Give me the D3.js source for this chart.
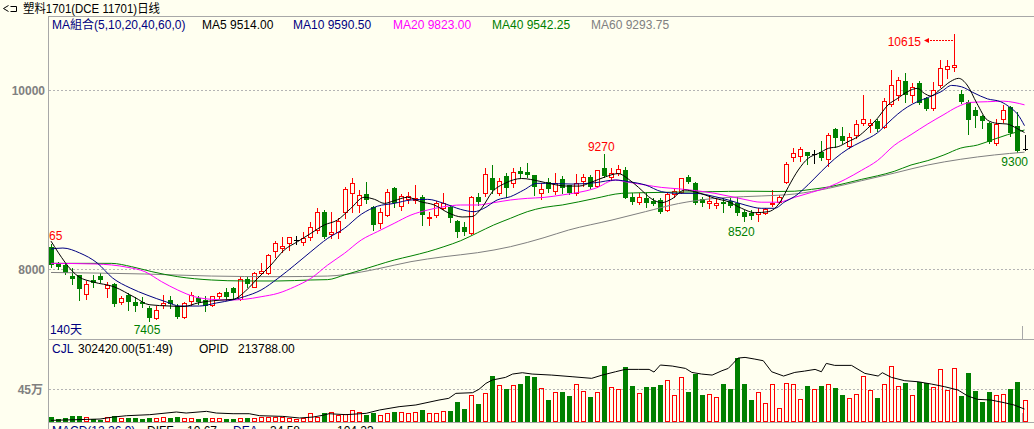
<!DOCTYPE html>
<html><head><meta charset="utf-8">
<script src="https://cdn.jsdelivr.net/npm/d3@7"></script>
<style>
html,body{margin:0;padding:0;background:#fffff0;overflow:hidden}
svg{display:block}
text{font-family:"Liberation Sans","Noto Sans CJK SC",sans-serif;font-size:12px}
</style></head><body>
<svg id="c" width="1034" height="429"></svg>
<script>
// ---------- data ----------
const title = "塑料1701(DCE 11701)日线";
const open = [8238,8052,8033,7910,7922,7706,7866,7910,7776,7821,
7624,7698,7624,7620,7557,7437,7590,7642,7575,7456,
7635,7668,7642,7586,7687,7728,7772,7650,7877,7791,
7940,7940,8190,8220,8275,8313,8294,8350,8424,8629,
8380,8406,8630,8834,8704,8826,8685,8499,8592,8890,
8692,8767,8760,8789,8555,8592,8674,8677,8525,8454,
8394,8797,8841,9001,8834,9031,8946,9087,9076,9039,
8841,8965,8864,8991,8927,8842,8972,9020,8916,9121,
9013,9065,9095,8790,8741,8786,8752,8760,8648,8827,
8853,9020,8946,8771,8722,8704,8741,8749,8722,8630,
8611,8603,8611,8715,8741,8965,9244,9251,9292,9274,
9292,9214,9549,9475,9367,9486,9616,9598,9642,9579,
9832,9933,10089,9933,10063,9896,9784,10045,10220,10250,
9940,9858,9765,9698,9624,9393,9661,9795,9586,9326];
const high = [8265,8070,8060,7996,7925,7854,7922,7940,7847,7836,
7687,7717,7679,7679,7575,7575,7698,7690,7598,7624,
7735,7690,7687,7690,7735,7772,7791,7896,7903,7959,
8052,8156,8305,8342,8342,8357,8406,8517,8666,8648,
8629,8555,8901,9001,8871,8964,8692,8666,8879,8901,
8826,8853,8927,8815,8629,8752,8834,8692,8536,8517,
8804,8834,9113,9150,9001,9057,9113,9132,9169,9039,
8946,9002,9065,9032,8927,9050,9050,9039,9095,9270,
9114,9151,9125,8834,8834,8834,8778,8778,8842,8879,
9002,9039,8965,8797,8816,8778,8778,8778,8789,8648,
8648,8667,8667,8871,8816,9188,9337,9348,9300,9319,
9423,9505,9560,9572,9505,9654,9933,9661,9661,9896,
10212,10138,10175,10063,10093,9914,10082,10324,10324,10615,
9989,9877,9802,9709,9635,9661,9821,9810,9747,9486];
const low = [8015,7985,7933,7821,7642,7653,7791,7847,7679,7575,
7598,7530,7523,7568,7405,7426,7549,7549,7437,7437,
7586,7598,7523,7575,7661,7642,7650,7642,7791,7784,
7933,7933,8119,8182,8201,8268,8257,8313,8387,8331,
8331,8331,8555,8629,8629,8722,8424,8443,8581,8685,
8648,8722,8722,8480,8480,8573,8655,8517,8342,8368,
8380,8704,8804,8834,8815,8789,8908,9020,9020,8815,
8767,8853,8827,8834,8827,8816,8916,8890,8901,9020,
8983,9039,8778,8715,8715,8678,8704,8618,8641,8797,
8834,8946,8715,8696,8667,8667,8630,8685,8592,8520,
8544,8529,8603,8693,8730,8953,9199,9199,9162,9169,
9207,9140,9356,9400,9337,9449,9598,9523,9535,9560,
9810,9877,9858,9858,9832,9765,9765,10018,10119,10205,
9840,9497,9579,9560,9393,9374,9635,9475,9300,9320];
const close = [8033,8007,7948,7881,7761,7817,7836,7866,7810,7598,
7668,7624,7575,7598,7437,7530,7605,7598,7448,7612,
7698,7616,7575,7690,7717,7679,7717,7873,7817,7948,
7970,8141,8275,8246,8342,8313,8331,8454,8622,8342,
8406,8529,8879,8946,8815,8760,8480,8629,8845,8730,
8808,8808,8778,8592,8573,8730,8722,8555,8406,8406,
8797,8741,9050,8871,8972,8890,9076,9050,9039,8901,
8879,8879,8953,8898,8834,8946,9013,8909,9095,9032,
9065,9102,8778,8741,8790,8722,8715,8630,8823,8860,
9002,8965,8722,8722,8749,8730,8715,8696,8611,8574,
8581,8630,8655,8730,8797,9162,9281,9326,9255,9274,
9225,9486,9449,9423,9467,9605,9661,9616,9549,9870,
10045,10100,9933,10026,9847,9773,9989,10231,10257,10268,
9858,9653,9698,9646,9411,9609,9765,9512,9311,9326];
const volume = [67000,40000,54000,81000,81000,67000,40000,31000,67000,81000,
54000,54000,54000,45000,54000,54000,67000,54000,67000,54000,
54000,40000,54000,54000,54000,40000,45000,54000,54000,54000,
67000,67000,67000,67000,54000,40000,54000,121000,67000,121000,
135000,90000,103000,157000,130000,94000,126000,90000,117000,135000,
130000,117000,130000,162000,117000,117000,148000,148000,270000,175000,
360000,243000,387000,621000,495000,445000,495000,513000,621000,603000,
454000,297000,400000,405000,351000,513000,414000,337000,400000,756000,
468000,441000,742000,486000,387000,472000,472000,499000,562000,360000,
603000,405000,652000,364000,378000,333000,513000,445000,860000,513000,
297000,405000,256000,513000,189000,522000,513000,310000,486000,445000,
486000,513000,459000,364000,319000,378000,621000,432000,324000,513000,
756000,481000,526000,364000,535000,522000,468000,711000,432000,724000,
351000,661000,418000,274000,405000,360000,378000,445000,540000,302420];
// moving averages: [day index, value]
const ma5 = [[0,8300],[4,7900],[6,7844],[9,7790],[12,7670],[14,7590],[17,7575],[19,7570],[21,7610],[24,7640],[26,7650],[28,7760],[29.5,7884],[31.4,8033],[33.3,8201],[35.2,8294],[37.1,8387],[39,8480],[40.9,8536],[42.8,8666],[44.7,8790],[46.2,8767],[47.6,8722],[49,8752],[50.9,8790],[52.8,8740],[54.7,8705],[56.8,8614],[58.7,8570],[60.1,8575],[61.5,8670],[63,8849],[64.9,8949],[67.2,9000],[69.7,8970],[71.5,8938],[73.5,8916],[75.4,8915],[77.2,8960],[79.2,9020],[81,9055],[82.5,8990],[83.9,8900],[85.8,8770],[87.2,8730],[88.6,8770],[90.5,8871],[91.9,8853],[93.4,8816],[94.8,8778],[96.7,8741],[98.6,8667],[100.5,8618],[102.4,8629],[103.6,8685],[104.3,8760],[105.3,8909],[106.7,9095],[108.1,9225],[109.6,9281],[111,9337],[112.4,9356],[113.8,9411],[115.2,9467],[116.6,9560],[118,9672],[119.5,9821],[120.9,9896],[122.3,9970],[123.7,10007],[124.7,9951],[125.6,9922],[127,9996],[128.4,10082],[129.6,10119],[130.8,10045],[132.2,9840],[133.7,9653],[135.1,9616],[136.5,9609],[137.9,9560],[139,9514]];
const ma10 = [[0,8212],[1.7,8223],[4.1,8168],[6.6,8056],[8.8,7888],[11.3,7777],[13.7,7698],[16.5,7620],[18.4,7575],[21.2,7575],[23.6,7609],[25.9,7643],[27.6,7680],[30,7754],[32.4,7884],[34.8,8033],[37.1,8182],[39.5,8331],[41.9,8443],[44.3,8600],[46.6,8690],[49,8722],[51.4,8760],[53.8,8767],[56.1,8722],[58.5,8655],[60.4,8629],[61.8,8666],[63.7,8760],[65.6,8797],[67.5,8871],[69.4,8946],[70.6,8946],[74.4,8938],[77.7,8953],[80.6,8983],[82.5,8964],[84.9,8927],[87.2,8853],[89.6,8834],[92,8834],[94.8,8797],[96.7,8760],[99.1,8704],[101.4,8667],[103.3,8667],[104.8,8741],[106.2,8800],[108.1,8930],[110,9080],[111.9,9220],[113.8,9330],[115.7,9410],[118,9510],[119.5,9620],[120.9,9720],[122.3,9800],[123.7,9858],[125.2,9905],[127.1,9970],[128.6,10040],[130,10025],[131.8,9955],[133.7,9890],[135.6,9858],[137,9790],[138,9720],[139,9590]];
const ma20 = [[0,8052],[6.3,8045],[11,8007],[13.4,7959],[15.8,7847],[18.1,7754],[20.5,7679],[22.9,7650],[25.3,7642],[27.6,7650],[30,7679],[32.4,7717],[34.8,7791],[37.1,7884],[39.5,8033],[41.9,8164],[44.3,8313],[46.6,8406],[49,8499],[51.4,8592],[53.8,8648],[56.1,8685],[58.5,8704],[60.9,8704],[63.2,8730],[65.6,8760],[68,8778],[70.4,8789],[73,8816],[77.7,8890],[80.6,8983],[82,8964],[84.9,8927],[87.2,8900],[89.6,8885],[92,8865],[94.8,8834],[96.7,8804],[99.1,8765],[101.4,8735],[103.8,8735],[106.2,8790],[108.6,8845],[111,8905],[113.4,8990],[115.7,9090],[118,9200],[120.4,9370],[122.8,9490],[125.2,9610],[127.5,9715],[129.4,9800],[131.3,9850],[133.7,9858],[136,9864],[137.5,9850],[139,9823]];
const ma40 = [[0,8052],[8.6,8052],[11.5,8015],[14.4,7959],[18.1,7903],[22.9,7866],[27.6,7855],[32.4,7855],[37.1,7866],[39.5,7870],[41.9,7922],[44.3,7977],[46.6,8033],[49,8089],[51.4,8134],[53.8,8182],[56.1,8238],[58.5,8305],[60.9,8394],[63.2,8480],[65.6,8555],[68,8629],[70.4,8677],[73,8704],[77.7,8778],[81.5,8834],[84.9,8842],[89.6,8848],[94.4,8853],[99.1,8858],[103.8,8855],[106.2,8858],[108.6,8879],[111,8905],[113.4,8946],[115.7,8990],[118,9030],[120.4,9080],[122.8,9151],[125.2,9200],[127.5,9263],[129.9,9340],[132.3,9374],[134.7,9440],[136.6,9490],[139,9542]];
const ma60 = [[0,7950],[13.4,7933],[22.9,7910],[32.4,7903],[39.5,7910],[44.3,7955],[46.6,7990],[51.4,8071],[56.1,8126],[60.9,8171],[65.6,8238],[70.4,8339],[73.9,8424],[80.1,8536],[84.9,8630],[89.6,8720],[94.4,8775],[98.9,8797],[101.5,8805],[106.2,8827],[111,8890],[115.7,8975],[120.4,9060],[125.2,9151],[129.9,9215],[134.7,9263],[139,9294]];
const opid = [[0,22000],[7,40000],[8.9,67000],[10.8,85000],[14.1,99000],[17.9,135000],[19.3,121000],[22.2,144000],[23.6,121000],[26,112000],[28.3,112000],[29.8,85000],[33.1,76000],[35.5,54000],[37.4,67000],[38.8,90000],[39.7,112000],[42.1,99000],[45,117000],[46.9,162000],[49.7,207000],[52.1,230000],[55.4,297000],[56.8,320000],[57.8,387000],[60.2,396000],[61.1,441000],[62.1,522000],[63,567000],[64.9,603000],[65.9,648000],[67.3,666000],[68.7,648000],[71.5,634000],[74.4,612000],[77.2,590000],[78.7,634000],[80.6,679000],[82,711000],[83.9,711000],[85.4,711000],[86.1,675000],[87,770000],[88.7,756000],[90.6,724000],[91.5,670000],[92.9,648000],[94.4,634000],[95.8,693000],[96.7,724000],[97.4,792000],[98.1,864000],[99.1,873000],[100.5,850000],[101.7,828000],[102.9,679000],[104.6,621000],[106.2,670000],[107.6,688000],[109.1,711000],[110,679000],[110.7,792000],[111.9,765000],[114.3,765000],[116.2,657000],[118.1,621000],[118.7,666000],[120,603000],[121.9,558000],[123.8,544000],[125.7,513000],[127.6,477000],[129.5,432000],[130.9,351000],[132.3,306000],[134.2,297000],[136.1,261000],[137.5,230000],[139,175000]];
const priceTicks = [8000, 10000];
const volTicks = [450000];
const volTickLabels = ["45万"];
const legendItems = [
  {t:"MA組合(5,10,20,40,60,0)", c:"#000080"},
  {t:"MA5 9514.00", c:"#000000"},
  {t:"MA10 9590.50", c:"#000080"},
  {t:"MA20 9823.00", c:"#ff00ff"},
  {t:"MA40 9542.25", c:"#008000"},
  {t:"MA60 9293.75", c:"#808080"}];
const volLegend = [{t:"CJL",c:"#000080"},{t:"302420.00(51:49)",c:"#000"},{t:"OPID",c:"#000"},{t:"213788.00",c:"#000"}];
const macdLegend = [{t:"MACD(12,26,9)",c:"#000080"},{t:"DIFF",c:"#000"},{t:"10.67",c:"#000"},{t:"DEA",c:"#000080"},{t:"34.58",c:"#000"},{t:"104.23",c:"#000"}];

// ---------- drawing ----------
const BG="#fffff0", RED="#ff0000", GREEN="#008000", GRID="#b4b4b4";
const svg = d3.select("#c");
svg.append("rect").attr("width",1034).attr("height",429).attr("fill",BG);

const x = d3.scaleLinear().domain([0,139]).range([51,1024.5]);
const y = d3.scaleLinear().domain([8000,10000]).range([268,89]);
const yv = d3.scaleLinear().domain([0,450000]).range([422,388.7]);

const defs = svg.append("defs");
defs.append("clipPath").attr("id","cp").append("rect").attr("x",49).attr("y",17).attr("width",985).attr("height",321);
defs.append("clipPath").attr("id","cv").append("rect").attr("x",49).attr("y",340).attr("width",985).attr("height",82);

// frame lines
const fr = svg.append("g").attr("shape-rendering","crispEdges").attr("stroke","#a8a8a8");
fr.append("line").attr("x1",48.5).attr("x2",48.5).attr("y1",16).attr("y2",429);
fr.append("line").attr("x1",48).attr("x2",1034).attr("y1",16.5).attr("y2",16.5);
fr.append("line").attr("x1",48).attr("x2",1034).attr("y1",339.5).attr("y2",339.5);
fr.append("line").attr("x1",48).attr("x2",1034).attr("y1",422.5).attr("y2",422.5);
fr.append("line").attr("x1",1022.5).attr("x2",1022.5).attr("y1",326).attr("y2",339);
fr.append("line").attr("x1",1022.5).attr("x2",1022.5).attr("y1",413).attr("y2",422);

// title + icon
svg.append("path").attr("d","M8.5,5.5 L3.5,8.5 L8.5,11.5 M10.5,6.5 H16.5 V11.5 H10.5").attr("fill","none").attr("stroke","#000").attr("stroke-width",1);
svg.append("text").attr("x",23).attr("y",12.5).attr("textLength",137).attr("lengthAdjust","spacingAndGlyphs").attr("fill","#000").text(title);

// legend
const lx=[52,202,293,393,492,591];
svg.append("g").selectAll("text").data(legendItems).join("text")
  .attr("x",(d,i)=>lx[i]).attr("y",28.5).attr("fill",d=>d.c).text(d=>d.t);

// price grid + axis
const gridP = svg.append("g").attr("transform","translate(49,0)")
  .call(d3.axisRight(y).tickValues(priceTicks).tickSize(985).tickFormat(""));
gridP.select(".domain").remove();
gridP.selectAll("line").attr("stroke",GRID).attr("stroke-dasharray","2,2").attr("shape-rendering","crispEdges").attr("transform","translate(0,0.5)");
const axP = svg.append("g").attr("transform","translate(46,0)")
  .call(d3.axisLeft(y).tickValues(priceTicks).tickSize(0).tickPadding(1).tickFormat(d3.format("d")));
axP.select(".domain").remove();
axP.selectAll("text").attr("fill","#808080").attr("font-weight","bold").attr("dy","0.42em");

// candles
const data = d3.range(open.length).map(i=>({i,o:open[i],h:high[i],l:low[i],c:close[i],v:volume[i]}));
const colr = d => d.c>d.o?RED:(d.c<d.o?GREEN:"#000000");
const pg = svg.append("g").attr("clip-path","url(#cp)");
const cg = pg.append("g").attr("shape-rendering","crispEdges");
cg.selectAll("line.w").data(data).join("line").attr("class","w")
  .attr("x1",d=>Math.round(x(d.i))+0.5).attr("x2",d=>Math.round(x(d.i))+0.5)
  .attr("y1",d=>Math.round(y(d.h))).attr("y2",d=>Math.round(y(d.l))+1)
  .attr("stroke",colr);
cg.selectAll("rect.up").data(data.filter(d=>d.c>d.o)).join("rect").attr("class","up")
  .attr("x",d=>Math.round(x(d.i))-1.5).attr("y",d=>Math.round(y(d.c))+0.5)
  .attr("width",4).attr("height",d=>Math.max(Math.round(y(d.o))-Math.round(y(d.c)),1))
  .attr("fill",BG).attr("stroke",RED);
cg.selectAll("rect.dn").data(data.filter(d=>d.c<d.o)).join("rect").attr("class","dn")
  .attr("x",d=>Math.round(x(d.i))-2).attr("y",d=>Math.round(y(d.o)))
  .attr("width",5).attr("height",d=>Math.max(Math.round(y(d.c))-Math.round(y(d.o)),1))
  .attr("fill",GREEN);
cg.selectAll("line.dj").data(data.filter(d=>d.c===d.o)).join("line").attr("class","dj")
  .attr("x1",d=>Math.round(x(d.i))-2).attr("x2",d=>Math.round(x(d.i))+3)
  .attr("y1",d=>Math.round(y(d.c))+0.5).attr("y2",d=>Math.round(y(d.c))+0.5)
  .attr("stroke","#000");

// MA lines
const lineP = d3.line().x(d=>x(d[0])).y(d=>y(d[1])).curve(d3.curveMonotoneX);
[[ma60,"#808080"],[ma40,"#008000"],[ma20,"#ff00ff"],[ma10,"#000080"],[ma5,"#000000"]].forEach(([s,c])=>{
  pg.append("path").datum(s).attr("d",lineP).attr("fill","none").attr("stroke",c).attr("stroke-width",1);
});

// annotations
const ann = svg.append("g");
const iMax = d3.maxIndex(high), iMin = d3.minIndex(low);
ann.append("text").attr("x",49).attr("y",240).attr("fill",RED).text("65");
ann.append("text").attr("x",x(iMin)-2).attr("y",y(low[iMin])+13).attr("text-anchor","middle").attr("fill",GREEN).text(d3.format("d")(low[iMin]));
ann.append("text").attr("x",x(79)-3).attr("y",y(high[79])-3).attr("text-anchor","middle").attr("fill",RED).text(high[79]);
ann.append("text").attr("x",x(99)-3).attr("y",y(low[99])+14.5).attr("text-anchor","middle").attr("fill",GREEN).text(low[99]);
ann.append("text").attr("x",1028).attr("y",y(low[138])+14.3).attr("text-anchor","end").attr("fill",GREEN).text(low[138]);
const ay = Math.round(y(high[iMax]))+6.5;
ann.append("text").attr("x",921).attr("y",ay+5).attr("text-anchor","end").attr("fill",RED).text(high[iMax]);
ann.append("line").attr("x1",927).attr("x2",Math.round(x(iMax))).attr("y1",ay).attr("y2",ay).attr("stroke",RED).attr("stroke-dasharray","2,1").attr("shape-rendering","crispEdges");
ann.append("path").attr("d",`M924,${ay} L929,${ay-2.5} L929,${ay+2.5} Z`).attr("fill",RED);
ann.append("text").attr("x",50).attr("y",334).attr("fill","#000080").text("140天");

// volume panel
const gridV = svg.append("g").attr("transform","translate(49,0)")
  .call(d3.axisRight(yv).tickValues(volTicks).tickSize(985).tickFormat(""));
gridV.select(".domain").remove();
gridV.selectAll("line").attr("stroke",GRID).attr("stroke-dasharray","2,2").attr("shape-rendering","crispEdges").attr("transform","translate(0,0.5)");
const axV = svg.append("g").attr("transform","translate(44,0)")
  .call(d3.axisLeft(yv).tickValues(volTicks).tickSize(0).tickPadding(1).tickFormat((d,i)=>volTickLabels[i]));
axV.select(".domain").remove();
axV.selectAll("text").attr("fill","#808080").attr("font-weight","bold").attr("dy","0.42em");

const vg = svg.append("g").attr("clip-path","url(#cv)").attr("shape-rendering","crispEdges");
vg.selectAll("rect.vu").data(data.filter(d=>d.c>=d.o)).join("rect").attr("class","vu")
  .attr("x",d=>Math.round(x(d.i))-1.5).attr("y",d=>Math.round(yv(d.v))+0.5)
  .attr("width",4).attr("height",d=>Math.max(422-Math.round(yv(d.v))-1,1))
  .attr("fill","none").attr("stroke",RED);
vg.selectAll("rect.vd").data(data.filter(d=>d.c<d.o)).join("rect").attr("class","vd")
  .attr("x",d=>Math.round(x(d.i))-2).attr("y",d=>Math.round(yv(d.v)))
  .attr("width",5).attr("height",d=>422-Math.round(yv(d.v)))
  .attr("fill",GREEN);
svg.append("g").attr("clip-path","url(#cv)").append("path").datum(opid)
  .attr("d",d3.line().x(d=>x(d[0])).y(d=>yv(d[1]))).attr("fill","none").attr("stroke","#000").attr("stroke-width",1);

const vx=[52,78,199,238];
svg.append("g").selectAll("text").data(volLegend).join("text")
  .attr("x",(d,i)=>vx[i]).attr("y",352.5).attr("fill",d=>d.c).text(d=>d.t);

// MACD sub-panel header, cut off by the bottom of the window as in the reference
const mx=[52,147,187,233,270,337];
svg.append("g").selectAll("text").data(macdLegend).join("text")
  .attr("x",(d,i)=>mx[i]).attr("y",435).attr("fill",d=>d.c).text(d=>d.t);
</script>
</body></html>
